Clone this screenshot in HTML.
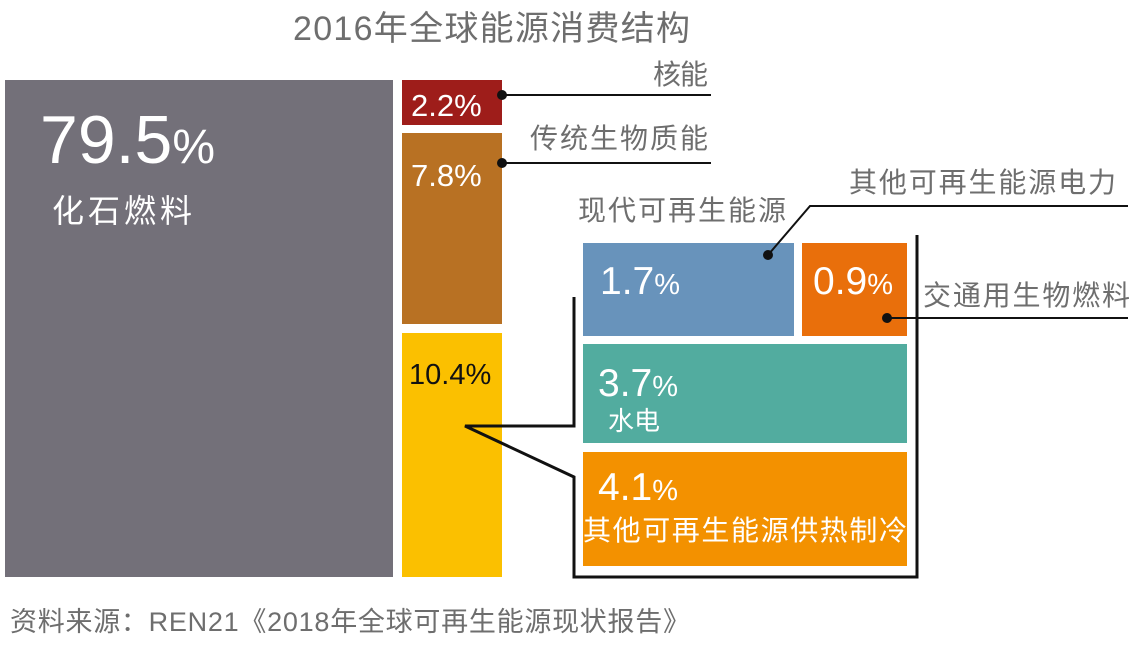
<!DOCTYPE html>
<html><head><meta charset="utf-8"><style>
body{margin:0;background:#fff}
svg{display:block}
text{font-family:"Liberation Sans","Noto Sans CJK SC",sans-serif}
</style></head><body>
<svg width="1134" height="648" viewBox="0 0 1134 648" xmlns="http://www.w3.org/2000/svg">
<text x="293" y="40" font-size="34" fill="#6e6e6e" textLength="397">2016年全球能源消费结构</text>
<rect x="5" y="80" width="388" height="497" fill="#737079"/>
<text x="40" y="163" font-size="68" fill="#fff" font-weight="300">79.5<tspan font-size="48">%</tspan></text>
<text x="52" y="222" font-size="32" fill="#fff" textLength="140">化石燃料</text>
<rect x="402" y="80" width="100" height="45" fill="#9e1d1a"/>
<text x="411" y="116" font-size="31" fill="#fff">2.2%</text>
<rect x="402" y="133" width="100" height="191" fill="#b87123"/>
<text x="411" y="186" font-size="31" fill="#fff">7.8%</text>
<rect x="402" y="333" width="100" height="244" fill="#fbc000"/>
<text x="409" y="384" font-size="29" fill="#111">10.4%</text>
<rect x="583" y="243" width="211" height="93" fill="#6893bb"/>
<text x="600" y="294" font-size="39" fill="#fff">1.7<tspan font-size="29">%</tspan></text>
<rect x="802" y="243" width="105" height="93" fill="#e96f0b"/>
<text x="813" y="294" font-size="39" fill="#fff">0.9<tspan font-size="29">%</tspan></text>
<rect x="583" y="344" width="324" height="99" fill="#52ac9f"/>
<text x="598" y="396" font-size="39" fill="#fff">3.7<tspan font-size="29">%</tspan></text>
<text x="608" y="430" font-size="26" fill="#fff">水电</text>
<rect x="583" y="452" width="324" height="114" fill="#f39100"/>
<text x="598" y="500" font-size="39" fill="#fff">4.1<tspan font-size="29">%</tspan></text>
<text x="583" y="540" font-size="28" fill="#fff" textLength="324">其他可再生能源供热制冷</text>
<g stroke="#111" stroke-width="2" fill="none">
<line x1="502" y1="95" x2="711" y2="95"/>
<line x1="502" y1="163" x2="711" y2="163"/>
<polyline points="768,255 810,206 1128,206"/>
<line x1="887" y1="318" x2="1128" y2="318"/>
</g>
<g stroke="#111" stroke-width="3" fill="none">
<polyline points="574,297 574,426 465,426 574,477 574,577 917,577 917,235"/>
</g>
<g fill="#111"><circle cx="502" cy="95" r="5"/><circle cx="502" cy="163" r="5"/><circle cx="768" cy="255" r="5"/><circle cx="887" cy="318" r="5"/></g>
<text x="653" y="84" font-size="28" fill="#6e6e6e" textLength="55">核能</text>
<text x="530" y="148" font-size="28" fill="#6e6e6e" textLength="178">传统生物质能</text>
<text x="578" y="220" font-size="28" fill="#6e6e6e" textLength="208">现代可再生能源</text>
<text x="849" y="192" font-size="28" fill="#6e6e6e" textLength="267">其他可再生能源电力</text>
<text x="923" y="305" font-size="28" fill="#6e6e6e" textLength="207">交通用生物燃料</text>
<text x="10" y="631" font-size="27" fill="#6e6e6e" textLength="680">资料来源：REN21《2018年全球可再生能源现状报告》</text>
</svg>
</body></html>
